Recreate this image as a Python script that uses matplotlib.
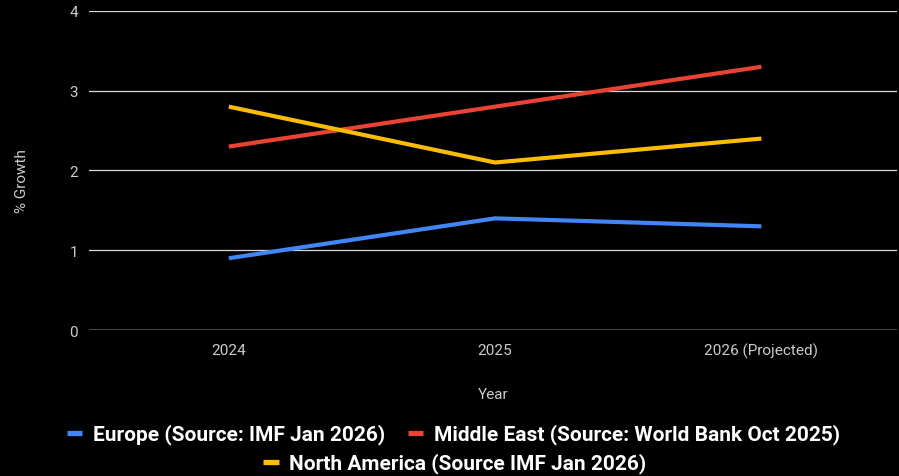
import matplotlib.pyplot as plt

years = ['2024', '2025', '2026 (Projected)']
europe = [0.9, 1.4, 1.3]
middle_east = [2.3, 2.8, 3.3]
north_america = [2.8, 2.1, 2.4]

series_labels = ['Europe (Source: IMF Jan 2026)',
                 'Middle East (Source: World Bank Oct 2025)',
                 'North America (Source IMF Jan 2026)']
colors = ['#4285F4', '#EA4335', '#FBBC04']
y_ticks = [0, 1, 2, 3, 4]

plt.rcParams['font.family'] = ['Roboto', 'DejaVu Sans']

fig = plt.figure(figsize=(8.99, 4.77), dpi=100, facecolor='black')
ax = fig.add_axes([0.099, 0.306, 0.899, 0.669])
ax.set_facecolor('black')

x = range(len(years))
lines = []
for vals, col, lab in zip([europe, middle_east, north_america], colors, series_labels):
    ln, = ax.plot(x, vals, color=col, lw=3, label=lab, solid_capstyle='butt')
    lines.append(ln)

ax.set_xlim(-0.525, 2.51)
ax.set_ylim(0, 4)
ax.set_yticks(y_ticks)
ax.set_xticks(list(x))
ax.set_xticklabels(years)
for v in y_ticks[1:]:
    ax.axhline(v, color='#d9d9d9', lw=0.9, zorder=0)
ax.axhline(0, color='#555555', lw=1.2, zorder=0)

for s in ax.spines.values():
    s.set_visible(False)
ax.tick_params(length=0, colors='#cccccc', labelsize=11)
ax.tick_params(axis='y', pad=8)
ax.tick_params(axis='x', pad=9)

ax.set_xlabel('Year', color='#cccccc', fontsize=11, labelpad=21)
ax.set_ylabel('% Growth', color='#cccccc', fontsize=11)
ax.yaxis.set_label_coords(-0.074, 0.47)

legend_kw = dict(loc='center', frameon=False, handlelength=0.75, handletextpad=0.5,
                 columnspacing=1.1, prop={'size': 15, 'weight': 'bold'})
leg1 = fig.legend(handles=lines[:2], bbox_to_anchor=(0.504, 1 - 435 / 477), ncol=2, **legend_kw)
leg2 = fig.legend(handles=lines[2:], bbox_to_anchor=(0.506, 1 - 464 / 477), **legend_kw)
for leg in (leg1, leg2):
    for t in leg.get_texts():
        t.set_color('white')
    for h in leg.legend_handles:
        h.set_linewidth(3.8)

fig.savefig('out.png', facecolor='black')
